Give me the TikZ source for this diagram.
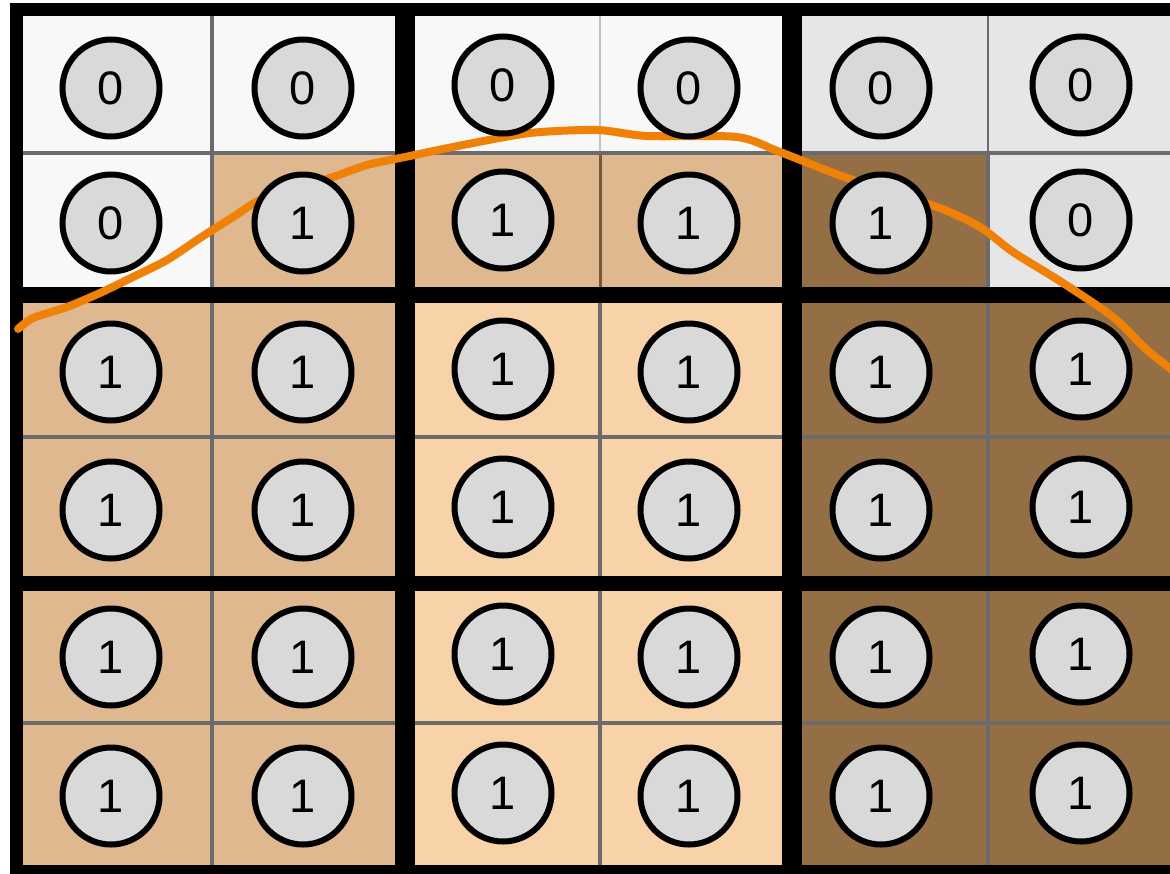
\documentclass[tikz,border=0pt]{standalone}
\usepackage{fontspec}
\setmainfont{Liberation Sans}
\definecolor{cellW}{HTML}{F8F8F8}
\definecolor{cellG}{HTML}{E6E6E6}
\definecolor{cellT}{HTML}{DFB890}
\definecolor{cellP}{HTML}{F8D3A9}
\definecolor{cellB}{HTML}{946F46}
\definecolor{gridgray}{HTML}{6B6B6B}
\definecolor{lightgray}{HTML}{C4C4C4}
\definecolor{curveorange}{HTML}{EE8106}
\definecolor{bitfill}{HTML}{D9D9D9}
\begin{document}
\begin{tikzpicture}[x=1pt,y=-1pt,
  thin grid/.style={draw=gridgray,line width=3.5pt},
  thick grid/.style={draw=black,line width=16pt},
  border/.style={draw=black,line width=13pt},
  boundary/.style={draw=curveorange,line width=8pt,line cap=round,line join=round},
  bit/.style={circle,draw=black,fill=bitfill,line width=6pt,minimum size=97pt,inner sep=0pt,
    font=\fontsize{47}{47}\selectfont}]
\useasboundingbox (0,0) rectangle (1170,873);
\fill[white] (0,0) rectangle (1170,873);
% cell fills
\fill[cellW] (16,9.5) rectangle (792,153);
\fill[cellW] (16,153) rectangle (212,295);
\fill[cellG] (792,9.5) rectangle (1190,153);
\fill[cellG] (988,153) rectangle (1190,295);
\fill[cellT] (212,153) rectangle (792,295);
\fill[cellT] (16,295) rectangle (405,869);
\fill[cellP] (405,295) rectangle (792,869);
\fill[cellB] (792,153) rectangle (988,295);
\fill[cellB] (792,295) rectangle (1190,869);
% thin cell lines
\draw[thin grid] (212,9.5) -- (212,869);
\draw[thin grid,draw=lightgray,line width=2pt] (600,9.5) -- (600,153);
\draw[thin grid,draw=cellB!80!black,line width=3pt] (600,153) -- (600,295);
\draw[thin grid] (600,295) -- (600,869);
\draw[thin grid,line width=2pt] (988,9.5) -- (988,153);
\draw[thin grid] (988,153) -- (988,869);
\foreach \y in {153,437,723} \draw[thin grid] (16,\y) -- (1190,\y);
% thick block lines
\draw[border] (16,3) -- (16,873);
\draw[border] (10,9.5) -- (1190,9.5);
\draw[thick grid,line width=20pt] (405,3) -- (405,873);
\draw[thick grid,line width=20pt] (792,3) -- (792,873);
\draw[thick grid] (10,295) -- (1190,295);
\draw[thick grid,line width=15pt] (10,583) -- (1190,583);
\draw[border,line width=10pt] (10,870) -- (1190,870);
% decision boundary
\draw[boundary] plot[smooth,tension=0.45] coordinates {
  (18,329) (33,318) (67,307) (100,293) (133,277) (167,260) (200,238)
  (233,217) (260,200) (300,187) (333,177) (367,165) (405,157) (463,145)
  (530,133) (597,130) (647,136) (737,137) (780,152) (847,178) (937,207)
  (980,227) (1013,252) (1063,283) (1113,317) (1147,350) (1175,372)};
% bits
\foreach \c/\x/\dy in {0/111/0,1/303/0,2/503/-3,3/689/0,4/881/0,5/1081/-3}{
  \foreach \r/\y in {0/88,1/223,2/372,3/510,4/657,5/796}{
    \pgfmathtruncatemacro{\v}{(\r==0 || (\r==1 && (\c==0 || \c==5))) ? 0 : 1}
    \node[bit] (b\r\c) at (\x,{\y+\dy}) {\v};
  }
}
\end{tikzpicture}
\end{document}
